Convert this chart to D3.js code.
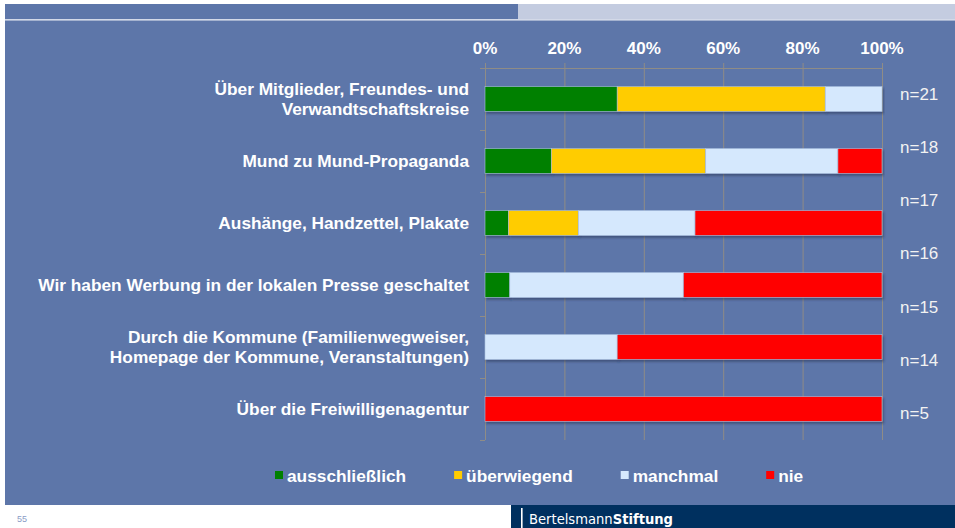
<!DOCTYPE html>
<html>
<head>
<meta charset="utf-8">
<script src="https://cdn.jsdelivr.net/npm/d3@7"></script>
<style>
  html, body { margin: 0; padding: 0; background: #fff; }
  svg { display: block; }
</style>
</head>
<body>
<div id="wrapper"></div>
<script>
const width = 955
const height = 528

// data (percent of answers per channel)
const categories = [
  ["Über Mitglieder, Freundes- und", "Verwandtschaftskreise"],
  ["Mund zu Mund-Propaganda"],
  ["Aushänge, Handzettel, Plakate"],
  ["Wir haben Werbung in der lokalen Presse geschaltet"],
  ["Durch die Kommune (Familienwegweiser,", "Homepage der Kommune, Veranstaltungen)"],
  ["Über die Freiwilligenagentur"]
]
const seriesNames = ["ausschließlich", "überwiegend", "manchmal", "nie"]
const ausschliesslich = [33.3, 16.7, 5.9, 6.25, 0, 0]
const ueberwiegend = [52.4, 38.9, 17.6, 0, 0, 0]
const manchmal = [14.3, 33.3, 29.4, 43.75, 33.3, 0]
const nie = [0, 11.1, 47.1, 50, 66.7, 100]
const nLabels = ["n=21", "n=18", "n=17", "n=16", "n=15", "n=14", "n=5"]
const ticks = [0, 20, 40, 60, 80, 100]

const colors = ["#008000", "#ffcc00", "#d5e8fd", "#ff0000"]
const bg = "#5d76a9"
const font = "'Liberation Sans', Arial, sans-serif"
const fs = "17.3px"

const rows = categories.map((c, i) => ({
  key: i,
  "ausschließlich": ausschliesslich[i],
  "überwiegend": ueberwiegend[i],
  "manchmal": manchmal[i],
  "nie": nie[i]
}))

const x = d3.scaleLinear().domain([0, 100]).range([485, 882])
const y = d3.scaleBand()
    .domain(d3.range(categories.length))
    .range([68, 440])
    .paddingInner(0.6)
    .paddingOuter(0.3)
const nY = d3.scalePoint().domain(nLabels).range([94, 413])
const color = d3.scaleOrdinal(seriesNames, colors)

const stacked = d3.stack().keys(seriesNames)(rows)

const svg = d3.select("#wrapper").append("svg")
    .attr("width", width)
    .attr("height", height)
    .style("font-family", font)

const defs = svg.append("defs")
const shadow = defs.append("filter").attr("id", "shadow")
    .attr("x", "-5%").attr("y", "-30%").attr("width", "110%").attr("height", "170%")
shadow.append("feDropShadow")
    .attr("dx", 1.5).attr("dy", 2).attr("stdDeviation", 1)
    .attr("flood-color", "#1a2a4a").attr("flood-opacity", 0.5)

// slide frame
svg.append("rect").attr("x", 5).attr("y", 4).attr("width", width - 5).attr("height", 501).attr("fill", bg)
svg.append("rect").attr("x", 518).attr("y", 4).attr("width", width - 518).attr("height", 15).attr("fill", "#c4cce0")
svg.append("rect").attr("x", 5).attr("y", 19).attr("width", width - 5).attr("height", 1.6).attr("fill", "#d3d9e8")

// footer
svg.append("rect").attr("x", 511).attr("y", 505).attr("width", width - 511).attr("height", 23).attr("fill", "#00305f")
svg.append("rect").attr("x", 521).attr("y", 508).attr("width", 1.6).attr("height", 20).attr("fill", "#fff")
const brand = svg.append("text")
    .attr("x", 529).attr("y", 524)
    .attr("fill", "#fff")
    .style("font-family", "'DejaVu Sans Condensed', 'DejaVu Sans', sans-serif")
    .style("font-size", "14.6px")
brand.append("tspan").text("Bertelsmann")
brand.append("tspan").attr("font-weight", "bold").text("Stiftung")
svg.append("text")
    .attr("x", 17).attr("y", 522)
    .attr("fill", "#8a9cc6")
    .style("font-size", "9px")
    .text("55")

// grid and axes
const grid = svg.append("g").attr("stroke", "#8f8c86").attr("stroke-width", 1)
grid.selectAll("line.v")
    .data(ticks)
    .join("line")
    .attr("class", "v")
    .attr("x1", d => x(d) + 0.5).attr("x2", d => x(d) + 0.5)
    .attr("y1", 63).attr("y2", 440)
grid.append("line")
    .attr("x1", 480).attr("x2", x(100) + 0.5)
    .attr("y1", 68.5).attr("y2", 68.5)
const bounds = d3.range(categories.length + 1).map(i => y.range()[0] + i * y.step())
grid.selectAll("line.t")
    .data(bounds.slice(1))
    .join("line")
    .attr("class", "t")
    .attr("x1", 480).attr("x2", x(0))
    .attr("y1", d => d + 0.5).attr("y2", d => d + 0.5)

svg.append("g")
    .selectAll("text")
    .data(ticks)
    .join("text")
    .attr("x", d => x(d))
    .attr("y", 54)
    .attr("text-anchor", "middle")
    .attr("fill", "#fff")
    .attr("font-weight", "bold")
    .style("font-size", "17px")
    .text(d => d + "%")

// bars
svg.append("g")
    .selectAll("g")
    .data(stacked)
    .join("g")
    .attr("fill", d => color(d.key))
    .selectAll("rect")
    .data(d => d.filter(s => s[1] - s[0] > 0))
    .join("rect")
    .attr("x", d => x(d[0]))
    .attr("y", d => y(d.data.key))
    .attr("width", d => x(d[1]) - x(d[0]))
    .attr("height", y.bandwidth())
    .attr("stroke", "#a9bfdf")
    .attr("stroke-width", 0.6)
    .attr("filter", "url(#shadow)")

// category labels
const lineH = 19.5
svg.append("g")
    .selectAll("text")
    .data(categories)
    .join("text")
    .attr("x", 469)
    .attr("y", (d, i) => y(i) + y.bandwidth() / 2 - (d.length - 1) * lineH / 2)
    .attr("text-anchor", "end")
    .attr("fill", "#fff")
    .attr("font-weight", "bold")
    .style("font-size", fs)
    .each(function (d) {
      d3.select(this).selectAll("tspan")
        .data(d)
        .join("tspan")
        .attr("x", 469)
        .attr("dy", (t, j) => j === 0 ? "0.35em" : lineH)
        .text(t => t)
    })

// n labels
svg.append("g")
    .selectAll("text")
    .data(nLabels)
    .join("text")
    .attr("x", 900)
    .attr("y", d => nY(d))
    .attr("dy", "0.35em")
    .attr("fill", "#f2f2f2")
    .style("font-size", "17px")
    .text(d => d)

// legend
const legend = svg.append("g").attr("transform", "translate(275,476)")
let lx = 0
seriesNames.forEach(name => {
  const item = legend.append("g").attr("transform", `translate(${lx},0)`)
  item.append("rect")
      .attr("x", 0).attr("y", -5).attr("width", 8).attr("height", 8)
      .attr("fill", color(name))
  const t = item.append("text")
      .attr("x", 12).attr("dy", "0.35em")
      .attr("fill", "#fff")
      .attr("font-weight", "bold")
      .style("font-size", fs)
      .text(name)
  lx += 12 + t.node().getComputedTextLength() + 48
})
</script>
</body>
</html>
